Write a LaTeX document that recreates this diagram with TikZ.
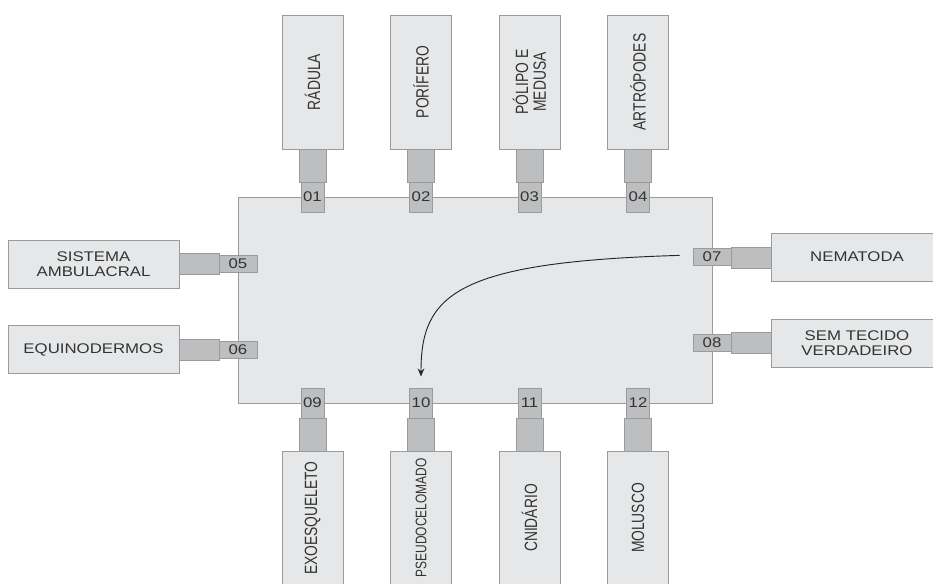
\documentclass[tikz,border=0pt]{standalone}
\usepackage{fontspec}
\usetikzlibrary{arrows.meta}
\setmainfont{Liberation Sans}
\newfontfamily\wideface[FakeStretch=1.2]{Liberation Sans}
\newfontfamily\tallface[FakeStretch=0.78]{Liberation Sans}
\definecolor{panel-fill}{HTML}{E6E7E8}
\definecolor{plug-fill}{HTML}{BDBEC0}
\definecolor{edge-gray}{HTML}{9B9B9B}
\definecolor{label-ink}{HTML}{333333}

\begin{document}
\begin{tikzpicture}[x=0.75pt, y=-0.75pt,
      every node/.style={inner sep=0pt, text=label-ink},
      board/.style={draw=edge-gray, fill=panel-fill, line width=0.75pt},
      plug/.style={draw=edge-gray, fill=plug-fill, line width=0.75pt},
      hcard/.style={board, align=center, minimum width=128.25pt,
          minimum height=36pt, font=\wideface\fontsize{10.5}{11.2}\selectfont},
      vcard/.style={board, align=center, rotate=90, minimum width=100.5pt,
          minimum height=45.75pt, font=\tallface\fontsize{13.3}{13.3}\selectfont},
      vstub/.style={plug, minimum width=20.25pt, minimum height=24.75pt},
      hstub/.style={plug, minimum width=30pt, minimum height=15.75pt},
      vtag/.style={plug, minimum width=17.25pt, minimum height=22.5pt,
          font=\wideface\fontsize{10.5}{12}\selectfont},
      htag/.style={plug, minimum width=28.5pt, minimum height=12.75pt,
          font=\wideface\fontsize{10.5}{12}\selectfont}]
    \clip (0,0) rectangle (933,583);
    \node[board, minimum width=355.5pt, minimum height=154.5pt] (Body) at (475,300) {};
    % top row
    \node[vcard] (C01) at (312.5,82) {RÁDULA};
    \node[vcard] (C02) at (421,82)   {PORÍFERO};
    \node[vcard] (C03) at (529.5,82) {PÓLIPO E\\MEDUSA};
    \node[vcard] (C04) at (638,82)   {ARTRÓPODES};
    \node[vstub] (S01) at (312.5,165.5) {};
    \node[vstub] (S02) at (421,165.5)   {};
    \node[vstub] (S03) at (529.5,165.5) {};
    \node[vstub] (S04) at (638,165.5)   {};
    \node[vtag] (T01) at (312.5,197) {01};
    \node[vtag] (T02) at (421,197)   {02};
    \node[vtag] (T03) at (529.5,197) {03};
    \node[vtag] (T04) at (638,197)   {04};
    % left side
    \node[hcard] (C05) at (93.5,264)  {SISTEMA\\AMBULACRAL};
    \node[hcard] (C06) at (93.5,349.5) {EQUINODERMOS};
    \node[hstub] (S05) at (199,263.5) {};
    \node[hstub] (S06) at (199,349.5) {};
    \node[htag] (T05) at (238,263.5) {05};
    \node[htag] (T06) at (238,349.5) {06};
    % right side
    \node[hcard] (C07) at (857,257) {NEMATODA};
    \node[hcard] (C08) at (857,343) {SEM TECIDO\\VERDADEIRO};
    \node[hstub] (S07) at (751.5,257.5) {};
    \node[hstub] (S08) at (751.5,342.5) {};
    \node[htag] (T07) at (712,257)   {07};
    \node[htag] (T08) at (712,342.5) {08};
    % bottom row
    \node[vcard] (C09) at (312.5,518) {EXOESQUELETO};
    \node[vcard, font=\tallface\fontsize{11.5}{11.5}\selectfont] (C10) at (421,518) {PSEUDOCELOMADO};
    \node[vcard] (C11) at (529.5,518) {CNIDÁRIO};
    \node[vcard] (C12) at (638,518)   {MOLUSCO};
    \node[vstub] (S09) at (312.5,434.5) {};
    \node[vstub] (S10) at (421,434.5)   {};
    \node[vstub] (S11) at (529.5,434.5) {};
    \node[vstub] (S12) at (638,434.5)   {};
    \node[vtag] (T09) at (312.5,403) {09};
    \node[vtag] (T10) at (421,403)   {10};
    \node[vtag] (T11) at (529.5,403) {11};
    \node[vtag] (T12) at (638,403)   {12};
    % 07 -> 10
    \draw[-{Stealth[length=6pt, width=5pt]}, line width=0.7pt, black!85,
          shorten <=9.75pt, shorten >=8.25pt]
          ([yshift=1.5pt]T07.west) .. controls (455,262) and (421,295) .. (T10.north);
  \end{tikzpicture}
\end{document}
